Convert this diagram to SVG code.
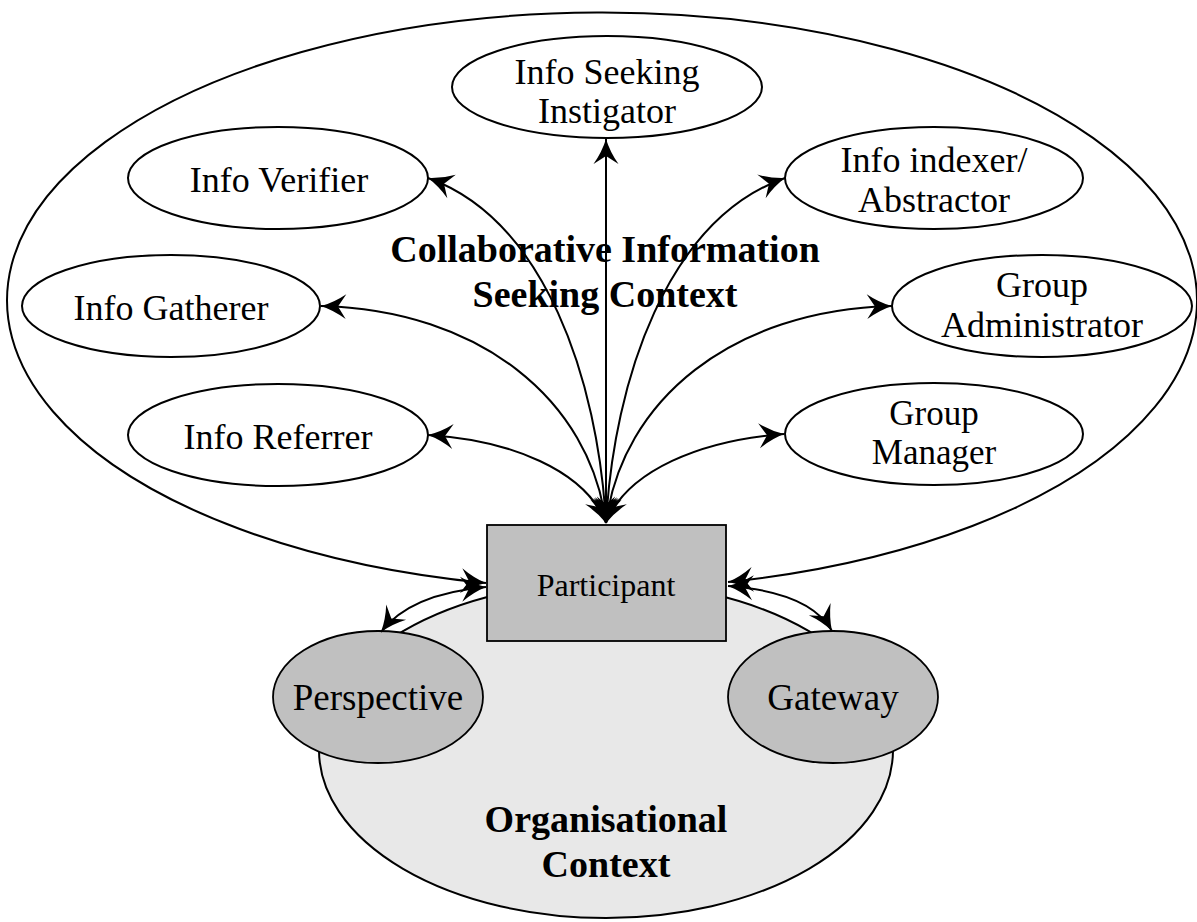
<svg xmlns="http://www.w3.org/2000/svg" width="1197" height="922" viewBox="0 0 1197 922">
  <defs>
    <marker id="ah" viewBox="-27 -14 29 28" refX="0" refY="0" markerWidth="29" markerHeight="28" markerUnits="userSpaceOnUse" orient="auto-start-reverse">
      <path d="M0,0 Q-13,-4 -25,-12.5 L-17,0 L-25,12.5 Q-13,4 0,0 Z" fill="#000"/>
    </marker>
    <style>
      .node { fill: #fff; stroke: #000; stroke-width: 2; }
      .grey { fill: #c0c0c0; stroke: #000; stroke-width: 1.8; }
      .lbl { font-family: "Liberation Serif", "Times New Roman", serif; font-size: 36px; fill: #000; text-anchor: middle; }
      .big { font-family: "Liberation Serif", "Times New Roman", serif; font-size: 38px; font-weight: bold; fill: #000; text-anchor: middle; }
      .conn { fill: none; stroke: #000; stroke-width: 2; marker-start: url(#ah); marker-end: url(#ah); }
    </style>
  </defs>
  <rect x="0" y="0" width="1197" height="922" fill="#fff"/>

  <g id="organisational-context">
    <ellipse cx="606" cy="750" rx="287" ry="168" fill="#e8e8e8" stroke="#000" stroke-width="2"/>
    <text class="big" x="606" y="832">Organisational</text>
    <text class="big" x="606" y="877">Context</text>
  </g>

  <g id="perspective">
    <ellipse class="grey" cx="378" cy="697" rx="105" ry="66"/>
    <text class="lbl" x="378" y="710" style="font-size:37px">Perspective</text>
  </g>

  <g id="gateway">
    <ellipse class="grey" cx="833" cy="697" rx="105" ry="66"/>
    <text class="lbl" x="833" y="710" style="font-size:37px">Gateway</text>
  </g>

  <g id="participant">
    <rect class="grey" x="487" y="525" width="239" height="116" stroke="#333"/>
    <text class="lbl" x="606" y="596" style="font-size:32px">Participant</text>
  </g>

  <g id="collaborative-context-label">
    <text class="big" x="605" y="262">Collaborative Information</text>
    <text class="big" x="605" y="307">Seeking Context</text>
  </g>

  <g id="connectors">
    <path id="collab-context" class="conn" d="M 486,583 A 595,288 0 1,1 728,582"/>
    <path class="conn" d="M 606,523 L 606,139"/>
    <path class="conn" d="M 606,523 C 598,380 545,220 428,178"/>
    <path class="conn" d="M 606,523 C 614,380 667,220 785,178"/>
    <path class="conn" d="M 606,523 C 590,400 480,310 321,306"/>
    <path class="conn" d="M 606,523 C 622,400 732,310 892,306"/>
    <path class="conn" d="M 606,523 C 585,470 510,440 428,435"/>
    <path class="conn" d="M 606,523 C 627,470 702,440 784,434"/>
    <path class="conn" d="M 381,632 Q 410,594 486,587"/>
    <path class="conn" d="M 728,586 Q 810,592 832,631"/>
  </g>

  <g id="info-seeking-instigator">
    <ellipse class="node" cx="607" cy="87" rx="155" ry="51"/>
    <text class="lbl" x="607" y="84">Info Seeking</text>
    <text class="lbl" x="607" y="123">Instigator</text>
  </g>

  <g id="info-verifier">
    <ellipse class="node" cx="278" cy="178" rx="150" ry="51"/>
    <text class="lbl" x="279" y="192">Info Verifier</text>
  </g>

  <g id="info-indexer">
    <ellipse class="node" cx="934" cy="178" rx="149" ry="51"/>
    <text class="lbl" x="934" y="172">Info indexer/</text>
    <text class="lbl" x="934" y="212">Abstractor</text>
  </g>

  <g id="info-gatherer">
    <ellipse class="node" cx="171" cy="306" rx="149" ry="51"/>
    <text class="lbl" x="171" y="320">Info Gatherer</text>
  </g>

  <g id="group-administrator">
    <ellipse class="node" cx="1042" cy="306" rx="150" ry="51"/>
    <text class="lbl" x="1042" y="297">Group</text>
    <text class="lbl" x="1042" y="337">Administrator</text>
  </g>

  <g id="info-referrer">
    <ellipse class="node" cx="278" cy="435" rx="150" ry="51"/>
    <text class="lbl" x="278" y="449">Info Referrer</text>
  </g>

  <g id="group-manager">
    <ellipse class="node" cx="934" cy="434" rx="149" ry="51"/>
    <text class="lbl" x="934" y="425" style="font-size:35px">Group</text>
    <text class="lbl" x="934" y="464" style="font-size:35px">Manager</text>
  </g>
</svg>
